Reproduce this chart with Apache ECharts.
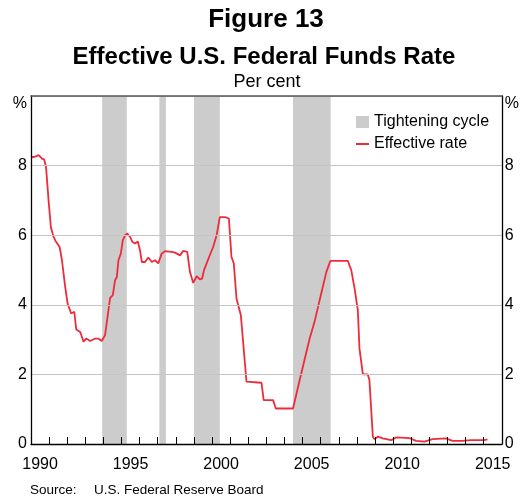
<!DOCTYPE html>
<html>
<head>
<meta charset="utf-8">
<script src="https://cdn.jsdelivr.net/npm/echarts@6/dist/echarts.min.js"></script>
<style>
  html, body { margin: 0; padding: 0; background: #fff; }
  #chart { width: 522px; height: 499px; }
</style>
</head>
<body>
<div id="chart"></div>
<script>
// effective rate (decimal year, per cent)
var rateYears = [1990.02, 1990.24, 1990.42, 1990.61, 1990.73, 1990.83, 1990.97, 1991.10, 1991.25, 1991.34,
    1991.43, 1991.58, 1991.71, 1991.89, 1992.02, 1992.11, 1992.22, 1992.39, 1992.50, 1992.72,
    1992.90, 1993.05, 1993.27, 1993.54, 1993.72, 1993.91, 1994.09, 1994.19, 1994.37, 1994.52,
    1994.64, 1994.74, 1994.83, 1994.96, 1995.07, 1995.20, 1995.32, 1995.47, 1995.60, 1995.74,
    1995.90, 1996.02, 1996.12, 1996.30, 1996.48, 1996.67, 1996.85, 1997.03, 1997.22, 1997.40,
    1997.77, 1997.95, 1998.23, 1998.41, 1998.63, 1998.78, 1998.96, 1999.15, 1999.33, 1999.45,
    1999.55, 1999.70, 1999.84, 1999.93, 2000.06, 2000.25, 2000.43, 2000.71, 2000.93, 2001.07,
    2001.20, 2001.35, 2001.59, 2001.90, 2001.99, 2002.73, 2002.85, 2003.37, 2003.52, 2004.47,
    2004.84, 2005.39, 2005.66, 2005.94, 2006.31, 2006.53, 2007.50, 2007.69, 2007.87, 2008.05,
    2008.14, 2008.33, 2008.60, 2008.69, 2008.88, 2008.97, 2009.15, 2009.43, 2009.89, 2010.17,
    2010.90, 2011.27, 2011.73, 2012.18, 2012.92, 2013.28, 2013.83, 2014.30, 2014.66, 2015.03,
    2015.21];
var rateValues = [8.24, 8.26, 8.30, 8.20, 8.17, 7.96, 7.00, 6.22, 5.95, 5.85,
    5.87, 5.66, 5.28, 4.51, 4.04, 4.04, 3.75, 3.80, 3.29, 3.22,
    2.94, 3.03, 2.96, 3.03, 3.03, 2.96, 3.13, 3.51, 4.20, 4.28,
    4.70, 4.80, 5.28, 5.47, 5.85, 6.00, 6.05, 5.95, 5.81, 5.76,
    5.82, 5.57, 5.23, 5.23, 5.36, 5.23, 5.28, 5.19, 5.47, 5.54,
    5.52, 5.50, 5.42, 5.55, 5.52, 4.94, 4.63, 4.82, 4.73, 4.75,
    4.99, 5.19, 5.38, 5.33, 5.66, 6.00, 6.52, 6.52, 6.48, 5.38,
    5.19, 4.18, 3.70, 1.79, 1.76, 1.76, 1.26, 1.26, 1.02, 1.02,
    1.84, 3.03, 3.51, 4.13, 4.94, 5.26, 5.26, 4.99, 4.47, 3.85,
    2.75, 2.00, 2.00, 1.84, 0.21, 0.14, 0.21, 0.16, 0.11, 0.19,
    0.17, 0.09, 0.07, 0.14, 0.16, 0.09, 0.09, 0.11, 0.11, 0.11,
    0.13];

// tightening cycles, start / end as decimal years
var cycleStart = [1993.93, 1997.09, 1999.00, 2004.47];
var cycleEnd = [1995.29, 1997.45, 2000.43, 2006.55];

var yearLabels = [1990, 1995, 2000, 2005, 2010, 2015];

var font = "'Liberation Sans', Arial, sans-serif";
var red = '#ee2b3b';

var rateData = [];
for (var i = 0; i < rateYears.length; i++) {
    rateData.push([rateYears[i], rateValues[i]]);
}
var areas = [];
for (var j = 0; j < cycleStart.length; j++) {
    areas.push([{ xAxis: cycleStart[j] }, { xAxis: cycleEnd[j] }]);
}

function yLabel(v) {
    return v === 10 ? '{p|%}' : String(v);
}

function txt(x, y, s, f, align) {
    return {
        type: 'text', x: x, y: y,
        style: { text: s, font: f, fill: '#000', textAlign: align || 'left', textVerticalAlign: 'top' }
    };
}

var chart = echarts.init(document.getElementById('chart'));
var option = {
    animation: false,
    textStyle: { fontFamily: font },
    graphic: [
        txt(266, 7, 'Figure 13', 'bold 26px ' + font, 'center'),
        txt(264, 45, 'Effective U.S. Federal Funds Rate', 'bold 24px ' + font, 'center'),
        txt(267, 73, 'Per cent', '18px ' + font, 'center'),
        txt(30, 483, 'Source:', '13.5px ' + font),
        txt(94, 483, 'U.S. Federal Reserve Board', '13.5px ' + font)
    ],
    legend: {
        orient: 'vertical',
        left: 356,
        top: 114,
        itemWidth: 13,
        itemHeight: 12,
        itemGap: 6,
        padding: 0,
        textStyle: { fontSize: 16, color: '#000', fontFamily: font },
        data: [
            { name: 'Tightening cycle', icon: 'rect' },
            { name: 'Effective rate', icon: 'path://M0,0H13V2H0Z' }
        ]
    },
    grid: { left: 31, right: 19, top: 96, bottom: 55, containLabel: false },
    xAxis: [
        {
            type: 'value', min: 1990, max: 2016, interval: 1, z: 5,
            axisLine: { lineStyle: { color: '#000', width: 1.3 } },
            axisTick: { inside: true, length: 7, lineStyle: { color: '#000', width: 1 } },
            axisLabel: { show: false },
            splitLine: { show: false }
        },
        {
            type: 'value', min: 1990, max: 2016, interval: 0.5, position: 'bottom',
            axisLine: { show: false },
            axisTick: { show: false },
            splitLine: { show: false },
            axisLabel: {
                margin: 13, fontSize: 16, color: '#000', fontFamily: font,
                showMinLabel: false, showMaxLabel: false,
                formatter: function (v) {
                    var y = Math.round(v * 2);
                    if (y % 2 === 0) return '';
                    var yr = (y - 1) / 2;
                    return yearLabels.indexOf(yr) >= 0 ? String(yr) : '';
                }
            }
        },
        {
            type: 'value', min: 1990, max: 2016, position: 'top', z: 5,
            axisLine: { lineStyle: { color: '#555', width: 1.6 } },
            axisTick: { show: false }, axisLabel: { show: false }, splitLine: { show: false }
        }
    ],
    yAxis: [
        {
            type: 'value', min: 0, max: 10, interval: 2, position: 'left', z: 5,
            axisLine: { show: true, lineStyle: { color: '#000', width: 1.3 } },
            axisTick: { show: false },
            splitLine: { lineStyle: { color: '#c4c4c4', width: 1 } },
            axisLabel: {
                margin: 4, fontSize: 16, color: '#000', fontFamily: font, formatter: yLabel,
                rich: { p: { fontSize: 16, color: '#000', fontFamily: font, padding: [16, 0, 0, 0] } }
            }
        },
        {
            type: 'value', min: 0, max: 10, interval: 2, position: 'right', z: 5,
            axisLine: { show: true, lineStyle: { color: '#000', width: 1.3 } },
            axisTick: { show: false },
            splitLine: { show: false },
            axisLabel: {
                margin: 3, fontSize: 16, color: '#000', fontFamily: font, formatter: yLabel,
                rich: { p: { fontSize: 16, color: '#000', fontFamily: font, padding: [16, 0, 0, 0] } }
            }
        }
    ],
    series: [
        {
            name: 'Tightening cycle',
            type: 'bar',
            xAxisIndex: 0,
            yAxisIndex: 0,
            data: [],
            itemStyle: { color: '#cccccc' },
            markArea: {
                silent: true,
                itemStyle: { color: '#cccccc' },
                data: areas
            }
        },
        {
            name: 'Effective rate',
            type: 'line',
            xAxisIndex: 0,
            yAxisIndex: 0,
            symbol: 'none',
            data: rateData,
            lineStyle: { color: red, width: 1.8 },
            itemStyle: { color: red },
            z: 4
        }
    ]
};
chart.setOption(option);
</script>
</body>
</html>
